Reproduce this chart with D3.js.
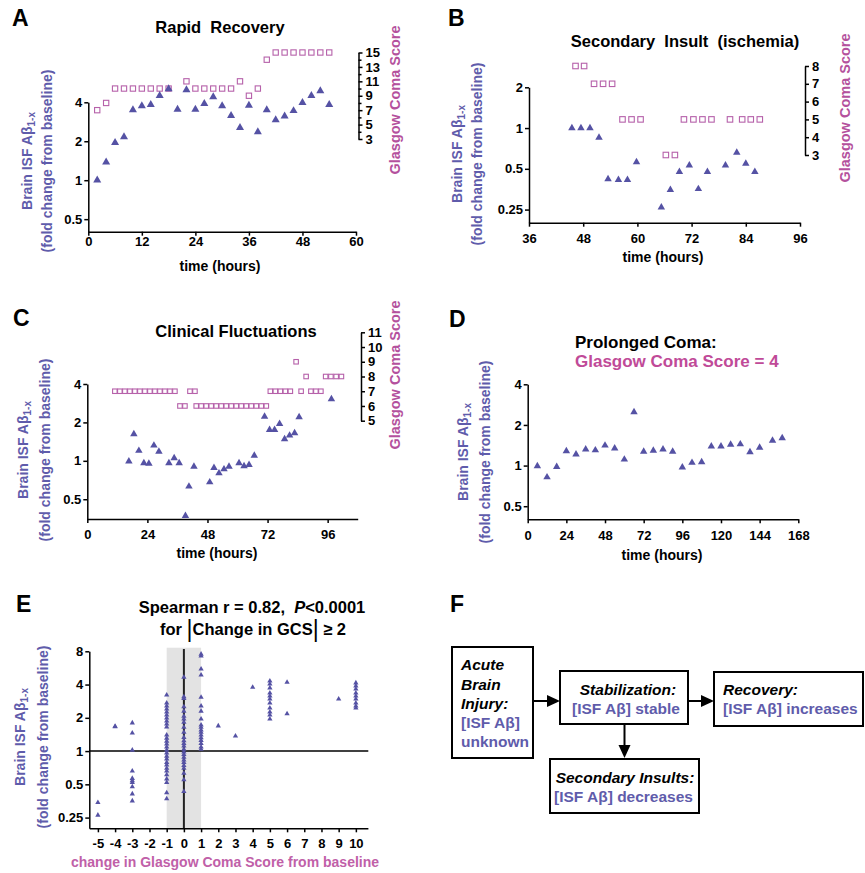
<!DOCTYPE html>
<html>
<head>
<meta charset="utf-8">
<script src="https://cdn.jsdelivr.net/npm/d3@7"></script>
<style>
  body { margin: 0; background: #fff; }
  svg text { font-family: "Liberation Sans", Arial, Helvetica, sans-serif; font-weight: bold; }
</style>
</head>
<body>
<script>
// ---- data ----
// A: rapid recovery
var aHours    = [2,4,6,8,10,12,14,16,18,20,22,24,26,28,30,32,34,36,38,40,42,44,46,48,50,52,54];
var aAbeta    = [1.0,1.38,1.95,2.16,3.49,3.75,3.83,4.5,5.07,3.53,4.98,3.53,3.9,4.4,3.75,3.15,2.55,3.79,2.36,3.5,2.92,3.12,3.44,3.97,4.5,4.89,3.83];
var aGcsHours = [2,4,6,8,10,12,14,16,18,22,24,26,28,30,32,34,36,38,40,42,44,46,48,50,52,54];
var aGcs      = [7,8,10,10,10,10,10,10,10,11,10,10,10,10,10,11,9,10,14,15,15,15,15,15,15,15];

// B: secondary insult
var bHours    = [45.5,47.5,49.5,51.5,53.5,55.8,57.8,59.8,65.3,67.3,69.3,71.5,73.5,75.5,79.5,82,84,86];
var bAbeta    = [1.0,1.0,1.0,0.85,0.42,0.415,0.415,0.56,0.26,0.35,0.475,0.53,0.355,0.475,0.53,0.66,0.546,0.475];
var bGcsHours = [46.3,48.2,50.4,52.4,54.4,56.7,58.7,60.7,66.3,68.3,70.3,72.4,74.4,76.4,80.5,83.2,85.1,87.1];
var bGcs      = [8,8,7,7,7,5,5,5,3,3,5,5,5,5,5,5,5,5];

// C: clinical fluctuations
var cHours    = [16.6,18.6,20.6,22.6,24.6,26.6,28.6,32.6,34.7,36.7,39.2,40.6,42.6,48.9,50.6,52.6,54.6,56.6,60.6,62.6,64.6,66.7,70.8,72.8,74.8,76.8,78.8,80.8,82.8,84.6,97.5];
var cAbeta    = [0.99,1.62,1.2,0.96,0.95,1.32,1.18,0.96,1.05,0.96,0.37,0.63,0.9,0.68,0.88,0.8,0.86,0.9,0.96,0.91,0.93,1.1,2.22,1.75,1.75,1.95,1.48,1.58,1.65,2.2,3.05];
var cGcsHours = [11,13,15,17,19,21,23,25,27,29,31,33,35,37,39,41,43,
                 43.5,45.5,47.5,49.5,51.5,53.5,55.5,57.5,59.5,61.5,63.5,65.5,67.5,69.5,71.5,
                 73.1,75.1,77.1,79.1,81.1,83.4,85.4,87.4,89.3,91.3,93.3,95.2,97.3,99.4,101.5];
var cGcs      = [7,7,7,7,7,7,7,7,7,7,7,7,7,6,6,7,7,
                 6,6,6,6,6,6,6,6,6,6,6,6,6,6,6,
                 7,7,7,7,7,9,7,8,7,7,7,8,8,8,8];

// D: prolonged coma
var dHours = [6,12,18,24,30,36,42,48,54,60,66,72,78,84,90,96,102,108,114,120,126,132,138,144,152,158];
var dAbeta = [0.99,0.82,0.98,1.28,1.21,1.32,1.30,1.41,1.34,1.11,2.49,1.27,1.29,1.32,1.27,0.97,1.05,1.06,1.39,1.39,1.43,1.44,1.26,1.36,1.53,1.6];

// E: change in GCS vs fold change
var eChange = [-5,-4,-3,-1,0,1,2,3,4,5,6,9,10];
var eAbeta = [
  [0.343,0.263],
  [1.66,1.68],
  [1.80,1.46,1.02,0.66,0.566,0.54,0.52,0.475,0.41,0.354],
  [3.22,2.72,2.56,2.40,2.26,2.12,1.99,1.87,1.76,1.65,1.40,1.31,1.23,1.16,1.09,1.02,0.96,0.90,0.85,0.79,0.75,0.70,0.66,0.61,0.56,0.52,0.42,0.37],
  [4.66,3.10,3.0,2.52,2.3,2.07,1.95,1.82,1.64,1.48,1.33,1.24,1.17,1.11,1.04,0.98,0.93,0.88,0.83,0.79,0.74,0.70,0.63,0.55,0.43],
  [7.54,7.26,5.54,4.89,3.07,2.56,2.3,1.95,1.72,1.64,1.55,1.48,1.40,1.32,1.25,1.17,1.09,1.04],
  [1.69],
  [1.37],
  [3.78],
  [4.31,4.05,3.73,3.36,3.15,2.96,2.72,2.45,2.26,2.12,1.95],
  [4.2,2.18],
  [2.96],
  [4.14,3.89,3.65,3.36,3.15,2.96,2.72,2.56,2.45]
];

var timeTicksA = [0,12,24,36,48,60];
var timeTicksB = [36,48,60,72,84,96];
var timeTicksC = [0,24,48,72,96];
var timeTicksD = [0,24,48,72,96,120,144,168];
var foldTicks = [0.25,0.5,1,2,4,8];

// ---- colours ----
var PURPLE = "#5552a4";
var LABEL_PURPLE = "#5f5cab";
var MAGENTA = "#b4519d";
var SQUARE = "#b661aa";

var svg = d3.select("body").append("svg")
  .attr("width", 865).attr("height", 873);

function styleAxis(g, fs) {
  g.selectAll("path.domain, line").attr("stroke", "#000").attr("stroke-width", 1.5);
  g.selectAll("text").attr("fill", "#000").attr("font-size", fs || 13);
}

function letter(x, y, s) {
  svg.append("text").attr("x", x).attr("y", y).attr("font-size", 23).text(s);
}

function title(x, y, s, anchor, color, size) {
  return svg.append("text").attr("x", x).attr("y", y)
    .attr("text-anchor", anchor || "middle")
    .attr("font-size", size || 16.5)
    .attr("fill", color || "#000")
    .style("white-space", "pre")
    .text(s);
}

function foldLabel(x1, x2, cy) {
  var t1 = svg.append("text")
    .attr("transform", "translate(" + x1 + "," + cy + ") rotate(-90)")
    .attr("text-anchor", "middle").attr("dy", "0.36em")
    .attr("font-size", 14).attr("fill", LABEL_PURPLE);
  t1.append("tspan").text("Brain ISF A\u03b2");
  t1.append("tspan").attr("font-size", 10).attr("dy", "0.3em").text("1-x");
  svg.append("text")
    .attr("transform", "translate(" + x2 + "," + cy + ") rotate(-90)")
    .attr("text-anchor", "middle").attr("dy", "0.36em")
    .attr("font-size", 14).attr("fill", LABEL_PURPLE)
    .text("(fold change from baseline)");
}

function gcsLabel(x, cy) {
  svg.append("text")
    .attr("transform", "translate(" + x + "," + cy + ") rotate(-90)")
    .attr("text-anchor", "middle").attr("dy", "0.36em")
    .attr("font-size", 14.5).attr("fill", MAGENTA)
    .text("Glasgow Coma Score");
}

function timePanel(o) {
  var x = d3.scaleLinear().domain(o.xDomain).range(o.xRange);
  var y = d3.scaleLog().base(2).domain(o.yDomain).range(o.yRange);

  var gx = svg.append("g").attr("transform", "translate(0," + o.yRange[0] + ")")
    .call(d3.axisBottom(x).tickValues(o.xTicks).tickSize(4).tickPadding(o.xPad).tickSizeOuter(0));
  styleAxis(gx);
  var gy = svg.append("g").attr("transform", "translate(" + o.xRange[0] + ",0)")
    .call(d3.axisLeft(y).tickValues(o.yTicks).tickFormat(function (d) { return d; })
      .tickSize(4).tickPadding(2).tickSizeOuter(0));
  styleAxis(gy);

  if (o.gcs) {
    var g = d3.scaleLinear().domain(o.gDomain).range(o.gRange);
    var gr = svg.append("g").attr("transform", "translate(" + o.gX + ",0)")
      .call(d3.axisRight(g).tickValues(d3.range(o.gDomain[0], o.gDomain[1] + 1))
        .tickFormat(function (d) { return o.gShow(d) ? d : ""; })
        .tickSize(4).tickPadding(3).tickSizeOuter(0));
    styleAxis(gr);
    gr.selectAll(".tick").filter(function (d) { return !o.gShow(d); })
      .select("line").attr("x2", 3);

    var s = o.sq;
    svg.append("g").selectAll("rect")
      .data(d3.zip(o.gcsHours, o.gcs))
      .join("rect")
      .attr("x", function (d) { return x(d[0]) - s / 2; })
      .attr("y", function (d) { return g(d[1]) - s / 2; })
      .attr("width", s).attr("height", s)
      .attr("fill", "none").attr("stroke", SQUARE).attr("stroke-width", 1.1);
  }

  svg.append("g").selectAll("path")
    .data(d3.zip(o.hours, o.abeta))
    .join("path")
    .attr("transform", function (d) { return "translate(" + x(d[0]) + "," + y(d[1]) + ")"; })
    .attr("d", d3.symbol(d3.symbolTriangle, o.tri))
    .attr("fill", PURPLE);
}

// ---- A ----
letter(12, 26, "A");
title(220, 33, "Rapid  Recovery");
timePanel({
  xDomain: [0, 60], xRange: [88.3, 356], xTicks: timeTicksA, xPad: 1,
  yDomain: [0.4, 4], yRange: [231.7, 102.3], yTicks: [0.5, 1, 2, 4],
  gcs: aGcs, gcsHours: aGcsHours, gDomain: [3, 15], gRange: [139, 52.5], gX: 358.5,
  gShow: function (d) { return d % 2 === 1; }, sq: 5.3,
  hours: aHours, abeta: aAbeta, tri: 28
});
foldLabel(27, 47, 161);
gcsLabel(395, 100);
title(220, 271, "time (hours)", "middle", "#000", 14);

// ---- B ----
letter(448, 26, "B");
title(685, 47, "Secondary  Insult  (ischemia)");
timePanel({
  xDomain: [36, 96], xRange: [529, 800], xTicks: timeTicksB, xPad: 7,
  yDomain: [0.2, 2], yRange: [222.7, 87.3], yTicks: [0.25, 0.5, 1, 2],
  gcs: bGcs, gcsHours: bGcsHours, gDomain: [3, 8], gRange: [155, 66], gX: 805,
  gShow: function () { return true; }, sq: 5.5,
  hours: bHours, abeta: bAbeta, tri: 24
});
foldLabel(457, 477, 154);
gcsLabel(845, 108);
title(663, 262, "time (hours)", "middle", "#000", 14);

// ---- C ----
letter(13, 326, "C");
title(236, 337, "Clinical Fluctuations");
timePanel({
  xDomain: [0, 108], xRange: [87.3, 357.7], xTicks: timeTicksC, xPad: 7,
  yDomain: [0.35, 4], yRange: [519, 384], yTicks: [0.5, 1, 2, 4],
  gcs: cGcs, gcsHours: cGcsHours, gDomain: [5, 11], gRange: [420.7, 332.3], gX: 361,
  gShow: function () { return true; }, sq: 4.5,
  hours: cHours, abeta: cAbeta, tri: 24
});
foldLabel(23, 45, 450);
gcsLabel(395, 375);
title(217, 558, "time (hours)", "middle", "#000", 14);

// ---- D ----
letter(449, 327, "D");
title(575, 348, "Prolonged Coma:", "start", "#000", 17);
title(575, 367, "Glasgow Coma Score = 4", "start", "#c04a98", 17);
timePanel({
  xDomain: [0, 168], xRange: [527.7, 798.3], xTicks: timeTicksD, xPad: 7,
  yDomain: [0.4, 4], yRange: [519.3, 384.3], yTicks: [0.5, 1, 2, 4],
  hours: dHours, abeta: dAbeta, tri: 24
});
foldLabel(463, 485, 452);
title(662, 560, "time (hours)", "middle", "#000", 14);

// ---- E ----
letter(16, 612, "E");
var e1 = svg.append("text").attr("x", 252).attr("y", 613).attr("text-anchor", "middle")
  .attr("font-size", 16.5).style("white-space", "pre");
e1.append("tspan").text("Spearman r = 0.82,  ");
e1.append("tspan").attr("font-style", "italic").text("P");
e1.append("tspan").text("<0.0001");
var e2 = svg.append("text").attr("x", 253).attr("y", 635).attr("text-anchor", "middle")
  .attr("font-size", 16.5).style("white-space", "pre");
e2.append("tspan").text("for ");
e2.append("tspan").attr("font-size", 23).attr("font-weight", "normal").attr("dy", 2).text("|");
e2.append("tspan").attr("dy", -2).text("Change in GCS");
e2.append("tspan").attr("font-size", 23).attr("font-weight", "normal").attr("dy", 2).text("|");
e2.append("tspan").attr("dy", -2).text(" \u2265 2");

var ex = d3.scaleLinear().domain([-5.5, 10.7]).range([89.3, 367.9]);
var ey = d3.scaleLog().base(2).domain([0.2, 8]).range([828.3, 651.3]);

svg.append("rect")
  .attr("x", ex(-1)).attr("y", 647.7)
  .attr("width", ex(1) - ex(-1)).attr("height", 828.3 - 647.7)
  .attr("fill", "#e3e3e3");
svg.append("line")
  .attr("x1", ex(0)).attr("x2", ex(0)).attr("y1", 649).attr("y2", 828.3)
  .attr("stroke", "#222").attr("stroke-width", 2);
svg.append("line")
  .attr("x1", ex.range()[0]).attr("x2", 368.3).attr("y1", ey(1)).attr("y2", ey(1))
  .attr("stroke", "#000").attr("stroke-width", 1.5);

var exAxis = svg.append("g").attr("transform", "translate(0,828.3)")
  .call(d3.axisBottom(ex).tickValues(d3.range(-5, 11)).tickFormat(function (d) { return String(d); })
    .tickSize(4).tickPadding(6).tickSizeOuter(0));
styleAxis(exAxis);
var eyAxis = svg.append("g").attr("transform", "translate(89.3,0)")
  .call(d3.axisLeft(ey).tickValues(foldTicks).tickFormat(function (d) { return d; })
    .tickSize(4).tickPadding(2).tickSizeOuter(0));
styleAxis(eyAxis);

var ePoints = [];
eChange.forEach(function (c, i) {
  eAbeta[i].forEach(function (v) { ePoints.push([c, v]); });
});
svg.append("g").selectAll("path")
  .data(ePoints)
  .join("path")
  .attr("transform", function (d) { return "translate(" + ex(d[0]) + "," + ey(d[1]) + ")"; })
  .attr("d", d3.symbol(d3.symbolTriangle, 12))
  .attr("fill", PURPLE);

foldLabel(20, 43, 737);
title(225, 867, "change in Glasgow Coma Score from baseline", "middle", "#c060a8", 14);

// ---- F: schematic ----
letter(450, 612, "F");
var F_FS = 15.5;
function box(x, y, w, h) {
  svg.append("rect").attr("x", x).attr("y", y).attr("width", w).attr("height", h)
    .attr("fill", "#fff").attr("stroke", "#000").attr("stroke-width", 2);
}
function ftext(x, y, s, anchor, italic, color) {
  svg.append("text").attr("x", x).attr("y", y)
    .attr("text-anchor", anchor)
    .attr("font-size", F_FS)
    .attr("font-style", italic ? "italic" : "normal")
    .attr("fill", color || "#000")
    .text(s);
}
function arrow(x1, y1, x2, y2) {
  var ang = Math.atan2(y2 - y1, x2 - x1), L = 13, W = 6;
  var bx = x2 - L * Math.cos(ang), by = y2 - L * Math.sin(ang);
  svg.append("line").attr("x1", x1).attr("y1", y1).attr("x2", bx).attr("y2", by)
    .attr("stroke", "#000").attr("stroke-width", 2);
  var px = -Math.sin(ang) * W, py = Math.cos(ang) * W;
  svg.append("polygon")
    .attr("points", [[x2, y2], [bx + px, by + py], [bx - px, by - py]].map(function (p) { return p.join(","); }).join(" "))
    .attr("fill", "#000");
}

box(452, 647, 81, 111);
ftext(461, 670, "Acute", "start", true);
ftext(461, 689.5, "Brain", "start", true);
ftext(461, 708.5, "Injury:", "start", true);
ftext(461, 728, "[ISF A\u03b2]", "start", false, LABEL_PURPLE);
ftext(461, 747, "unknown", "start", false, LABEL_PURPLE);

box(560, 671, 128, 53);
ftext(628, 694.5, "Stabilization:", "middle", true);
ftext(626, 713.5, "[ISF A\u03b2] stable", "middle", false, LABEL_PURPLE);

box(714, 672, 149, 54);
ftext(723, 694.5, "Recovery:", "start", true);
ftext(723, 713.5, "[ISF A\u03b2] increases", "start", false, LABEL_PURPLE);

box(550, 759, 149, 54);
ftext(625, 782.5, "Secondary Insults:", "middle", true);
ftext(623.5, 802, "[ISF A\u03b2] decreases", "middle", false, LABEL_PURPLE);

arrow(533, 701, 560, 701);
arrow(688, 701, 714, 701);
arrow(624.5, 724, 624.5, 758);
</script>
</body>
</html>
